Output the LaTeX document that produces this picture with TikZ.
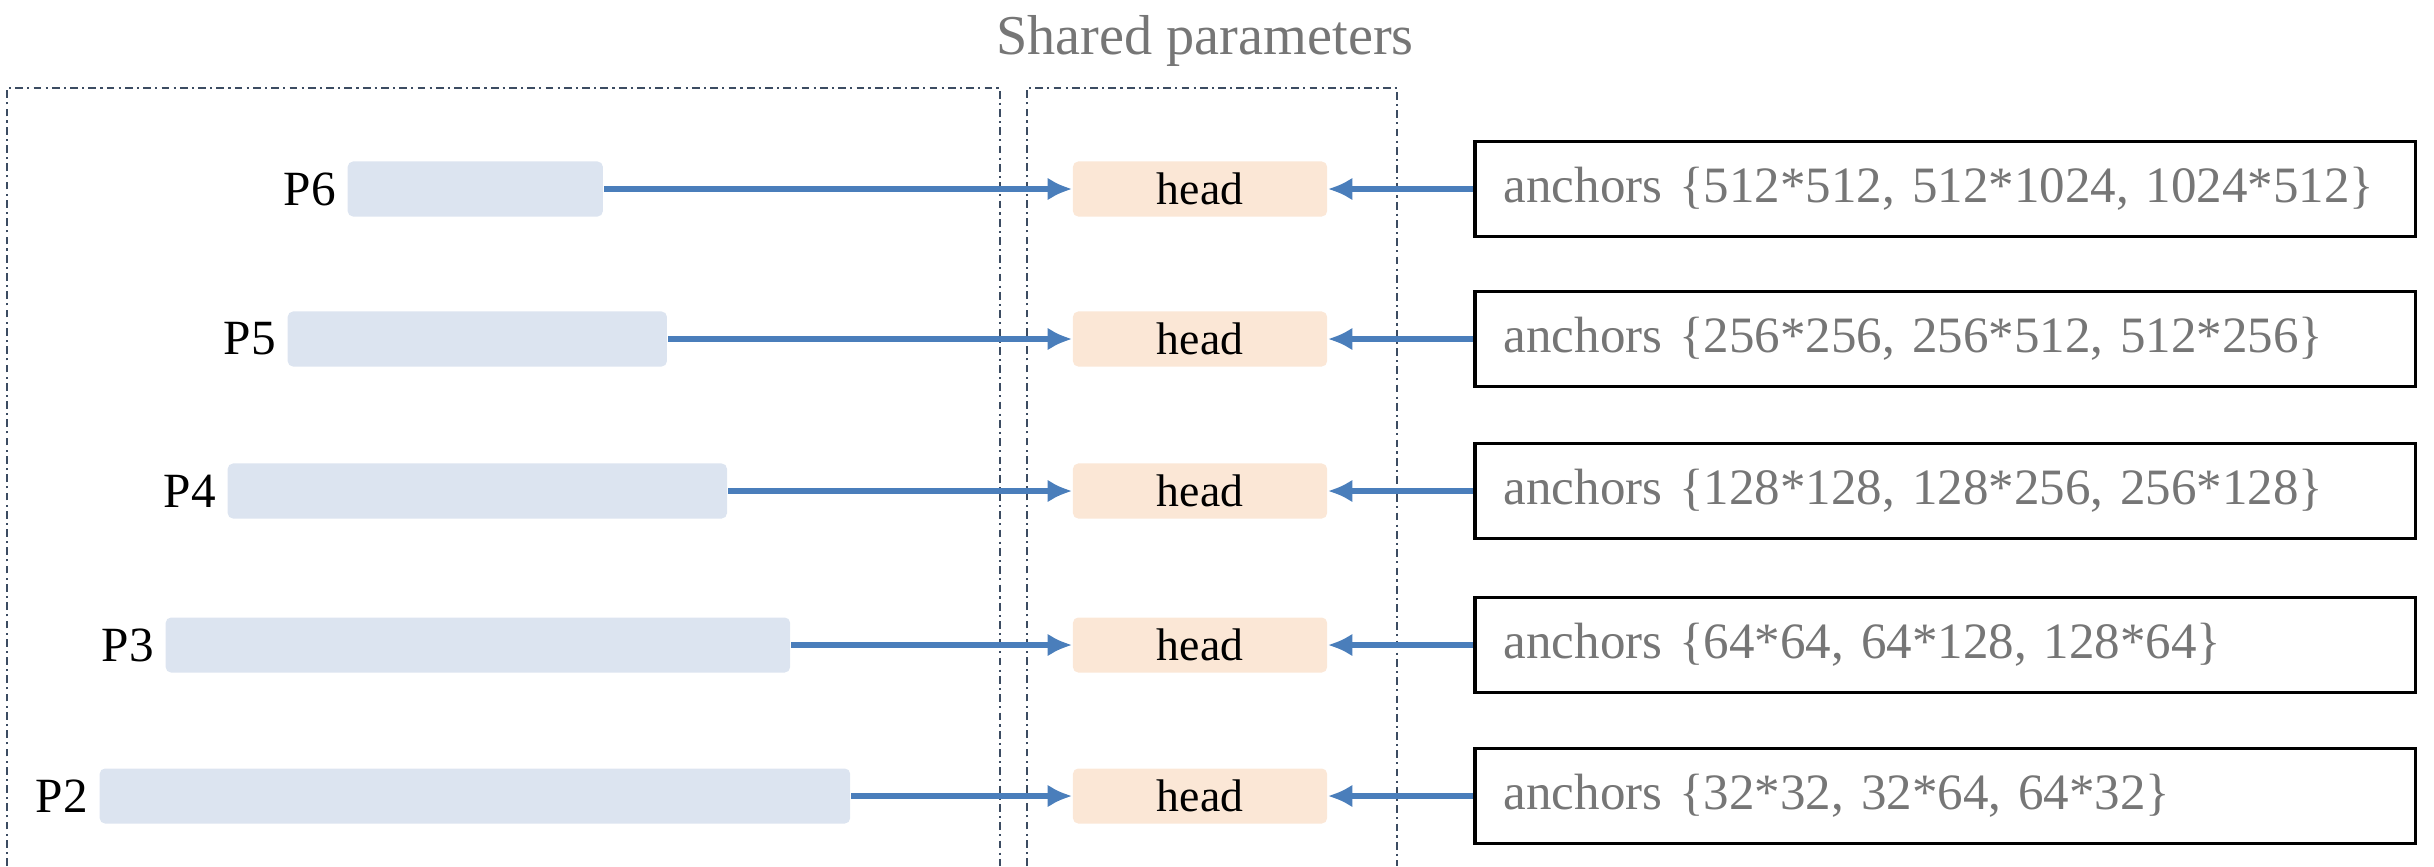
\documentclass[tikz,border=0pt]{standalone}
\usepackage{fontspec}
\setmainfont{Liberation Serif}
\usetikzlibrary{arrows.meta,positioning}
\definecolor{barblue}{RGB}{220,228,240}
\definecolor{headpeach}{RGB}{251,231,214}
\definecolor{arrowblue}{RGB}{74,126,187}
\definecolor{framegray}{RGB}{60,76,98}
\definecolor{textgray}{RGB}{118,118,118}
\tikzset{
    %Define standard arrow tip
    >={Latex[length=7pt,width=6.5pt]},
    %Define style for feature bars
    featbar/.style={
           rectangle,
           rounded corners=1.5pt,
           fill=barblue,
           minimum height=0.55cm,
           inner sep=0pt,
           anchor=west},
    %Define style for level names
    levname/.style={
           inner sep=0pt,
           font=\fontsize{14}{16}\selectfont},
    %Define style for head boxes
    headbox/.style={
           rectangle,
           rounded corners=1.5pt,
           fill=headpeach,
           minimum width=2.54cm,
           minimum height=0.55cm,
           inner sep=0pt,
           font=\fontsize{13}{15}\selectfont},
    %Define style for anchor boxes
    anchorbox/.style={
           rectangle,
           draw=black, line width=1pt,
           minimum height=0.95cm,
           text width=8.82cm,
           inner xsep=0.29cm,
           align=left,
           anchor=west,
           text=textgray,
           font=\fontsize{14.5}{17}\selectfont},
    % Define style for dashed frames
    frame/.style={
           draw=framegray,
           line width=0.8pt,
           dash pattern=on 2.2pt off 1.2pt on 0.6pt off 1.2pt}
}
\begin{document}
\begin{tikzpicture}[x=0.01cm,y=-0.01cm,
                    every edge/.style={draw=arrowblue,line width=1.5pt}]
    \useasboundingbox (0,0) rectangle (2434,866);
    % frames
    \draw [frame] (7,866) |- (1000,88) -- (1000,866);
    \draw [frame] (1027,866) |- (1397,88) -- (1397,866);
    \node (title) [text=textgray,anchor=base,font=\fontsize{16}{18}\selectfont]
          at (1205,54) {Shared parameters};
    % feature levels
    \node (p6bar) [featbar,minimum width=2.55cm] at (347,189) {};
    \node (p6) [levname] [left=3pt of p6bar] {P6};
    \node (p5bar) [featbar,minimum width=3.79cm] at (287,339) {};
    \node (p5) [levname] [left=3pt of p5bar] {P5};
    \node (p4bar) [featbar,minimum width=4.99cm] at (227,491) {};
    \node (p4) [levname] [left=3pt of p4bar] {P4};
    \node (p3bar) [featbar,minimum width=6.24cm] at (165,645) {};
    \node (p3) [levname] [left=3pt of p3bar] {P3};
    \node (p2bar) [featbar,minimum width=7.50cm] at (99,796) {};
    \node (p2) [levname] [left=3pt of p2bar] {P2};
    % anchor settings
    \node (a6) [anchorbox] at (1473,189) {anchors \{512*512, 512*1024, 1024*512\}};
    \node (a5) [anchorbox] at (1473,339) {anchors \{256*256, 256*512, 512*256\}};
    \node (a4) [anchorbox] at (1473,491) {anchors \{128*128, 128*256, 256*128\}};
    \node (a3) [anchorbox] at (1473,645) {anchors \{64*64, 64*128, 128*64\}};
    \node (a2) [anchorbox] at (1473,796) {anchors \{32*32, 32*64, 64*32\}};
    % shared heads
    \node (h6) [headbox] at (1200,189) {head}
          edge [<-] (p6bar)
          edge [<-] (a6);
    \node (h5) [headbox] at (1200,339) {head}
          edge [<-] (p5bar)
          edge [<-] (a5);
    \node (h4) [headbox] at (1200,491) {head}
          edge [<-] (p4bar)
          edge [<-] (a4);
    \node (h3) [headbox] at (1200,645) {head}
          edge [<-] (p3bar)
          edge [<-] (a3);
    \node (h2) [headbox] at (1200,796) {head}
          edge [<-] (p2bar)
          edge [<-] (a2);
\end{tikzpicture}
\end{document}
